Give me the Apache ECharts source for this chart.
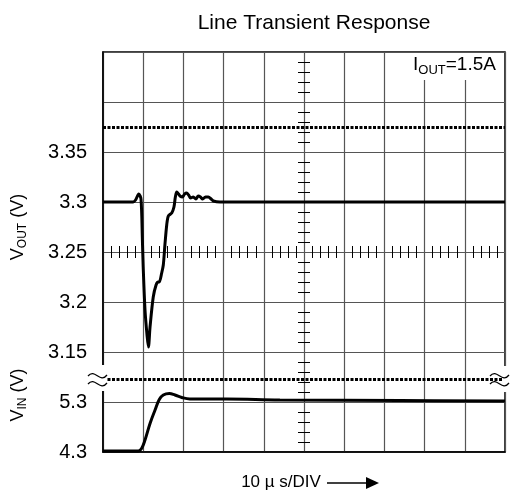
<!DOCTYPE html>
<html>
<head>
<meta charset="utf-8">
<script src="https://cdn.jsdelivr.net/npm/echarts@6/dist/echarts.min.js"></script>
<style>
  html, body { margin: 0; padding: 0; background: #fff; }
  #main { width: 518px; height: 500px; }
</style>
</head>
<body>
<div id="main"></div>
<script>
// 时间轴 (µs)，每格 10µs
var voutTime = [0, 7.5, 8.1, 8.9, 9.45, 9.8, 10.0, 10.45, 10.95, 11.3, 11.7, 12.5, 13.2, 13.7, 14.0, 14.6, 15.0, 15.4, 15.85, 16.25,
    17.1, 17.65, 18.0, 18.35, 18.8, 19.15, 19.8, 20.3, 20.8, 21.3, 21.8, 22.45, 23.1, 23.7, 24.25, 24.8, 25.5, 26.2, 26.9, 27.45, 29.1, 100];
var voutValue = [3.300, 3.300, 3.302, 3.308, 3.303, 3.262, 3.235, 3.192, 3.167, 3.155, 3.175, 3.205, 3.217, 3.220, 3.220, 3.229, 3.237, 3.257, 3.277, 3.286,
    3.289, 3.295, 3.305, 3.310, 3.308, 3.306, 3.305, 3.308, 3.309, 3.307, 3.304, 3.305, 3.303, 3.306, 3.305, 3.303, 3.305, 3.305, 3.303, 3.301, 3.300, 3.300];

var vinTime = [0, 8.8, 9.6, 10.45, 11.7, 12.95, 14.0, 15.0, 16.5, 17.9, 19.6, 21.6, 30.8, 44, 74, 100];
var vinValue = [4.32, 4.32, 4.37, 4.54, 4.87, 5.14, 5.35, 5.44, 5.47, 5.44, 5.39, 5.36, 5.36, 5.34, 5.33, 5.32];

// 参考线（示波器标记）
var voutRef = 3.375;
var vinRef = 5.76;

// 刻度标签
var voutLabels = ['3.15', '3.2', '3.25', '3.3', '3.35'];
var vinLabels = ['4.3', '5.3'];

function zip(xs, ys) {
    var out = [];
    for (var i = 0; i < xs.length; i++) {
        out.push([xs[i], ys[i]]);
    }
    return out;
}

var font = 'Arial, "Liberation Sans", sans-serif';
var chart = echarts.init(document.getElementById('main'));

var centerTickX = function (inside) {
    return {
        type: 'value', min: 0, max: 100, interval: 10,
        position: 'bottom', offset: -200,
        axisLine: { show: false }, axisLabel: { show: false }, splitLine: { show: false },
        axisTick: { show: false, inside: inside },
        minorTick: { show: true, splitNumber: 5, length: 6, lineStyle: { color: '#000', width: 1 } }
    };
};
var centerTickY = function (inside) {
    return {
        type: 'value', min: 3.05, max: 3.45, interval: 0.05,
        position: 'left', offset: -201,
        axisLine: { show: false }, axisLabel: { show: false }, splitLine: { show: false },
        axisTick: { show: false, inside: inside },
        minorTick: { show: true, splitNumber: 5, length: 6, lineStyle: { color: '#000', width: 1 } }
    };
};

var option = {
    animation: false,
    backgroundColor: '#fff',
    title: {
        text: 'Line Transient Response',
        left: 309, top: 8, textAlign: 'center',
        textStyle: { fontFamily: font, fontSize: 21, fontWeight: 'normal', color: '#000' }
    },
    grid: { left: 103, right: 13, top: 52, bottom: 48, show: true, borderColor: '#000', borderWidth: 1.5 },
    xAxis: [{
        type: 'value', min: 0, max: 100, interval: 10,
        name: '10 µ s/DIV', nameLocation: 'middle', nameGap: 22,
        nameTextStyle: { fontFamily: font, fontSize: 17, color: '#000', padding: [0, 46, 0, 0] },
        axisLine: { show: true, lineStyle: { color: '#000', width: 1.5 } },
        axisTick: { show: false }, axisLabel: { show: false },
        splitLine: { show: true, lineStyle: { color: '#555', width: 1.2 } }
    }, centerTickX(true), centerTickX(false)],
    yAxis: [{
        type: 'value', min: 3.05, max: 3.45, interval: 0.05,
        axisLine: { show: true, lineStyle: { color: '#000', width: 1.5 } },
        axisTick: { show: false },
        axisLabel: {
            margin: 16, fontFamily: font, fontSize: 20, color: '#000',
            formatter: function (v) {
                var s = String(+v.toFixed(2));
                return voutLabels.indexOf(s) >= 0 ? s : '';
            }
        },
        splitLine: { show: true, lineStyle: { color: '#555', width: 1.2 } }
    }, {
        type: 'value', min: 4.3, max: 12.3, interval: 0.1,
        position: 'left',
        axisLine: { show: false }, axisTick: { show: false }, splitLine: { show: false },
        axisLabel: {
            margin: 16, fontFamily: font, fontSize: 20, color: '#000',
            formatter: function (v) {
                var s = String(+v.toFixed(1));
                return vinLabels.indexOf(s) >= 0 && Math.abs(v - +s) < 1e-6 ? s : '';
            }
        }
    }, centerTickY(true), centerTickY(false)],
    series: [{
        name: 'VOUT', type: 'line', xAxisIndex: 0, yAxisIndex: 0,
        data: zip(voutTime, voutValue),
        showSymbol: false, smooth: 0.3,
        lineStyle: { color: '#000', width: 3 },
        markLine: {
            silent: true, symbol: 'none', precision: 3, label: { show: false },
            lineStyle: { color: '#000', width: 3, type: [3, 1.5] },
            data: [{ yAxis: voutRef }]
        }
    }, {
        name: 'VIN', type: 'line', xAxisIndex: 0, yAxisIndex: 1,
        data: zip(vinTime, vinValue),
        showSymbol: false, smooth: 0.4,
        lineStyle: { color: '#000', width: 3 },
        markLine: {
            silent: true, symbol: 'none', precision: 3, label: { show: false },
            lineStyle: { color: '#000', width: 3, type: [3, 1.5] },
            data: [{ yAxis: vinRef }]
        }
    }],
    graphic: [
        // IOUT 标注
        {
            type: 'rect', left: 408, top: 53, z: 100,
            shape: { width: 95, height: 27 }, style: { fill: '#fff' }
        },
        {
            type: 'text', left: 413, top: 55, z: 101,
            style: {
                text: '{n|I}{s|OUT}{n|=1.5A}',
                rich: {
                    n: { fontFamily: font, fontSize: 19, fill: '#000', verticalAlign: 'top' },
                    s: { fontFamily: font, fontSize: 13, fill: '#000', verticalAlign: 'top', padding: [9, 0, 0, 0] }
                }
            }
        },
        // 纵轴名称
        {
            type: 'text', x: 19, y: 227, rotation: Math.PI / 2, z: 100,
            style: {
                text: '{n|V}{s|OUT}{n| (V)}', align: 'center', verticalAlign: 'middle',
                rich: {
                    n: { fontFamily: font, fontSize: 18, fill: '#000', verticalAlign: 'top' },
                    s: { fontFamily: font, fontSize: 12, fill: '#000', verticalAlign: 'top', padding: [8, 0, 0, 0] }
                }
            }
        },
        {
            type: 'text', x: 19, y: 395, rotation: Math.PI / 2, z: 100,
            style: {
                text: '{n|V}{s|IN}{n| (V)}', align: 'center', verticalAlign: 'middle',
                rich: {
                    n: { fontFamily: font, fontSize: 18, fill: '#000', verticalAlign: 'top' },
                    s: { fontFamily: font, fontSize: 12, fill: '#000', verticalAlign: 'top', padding: [8, 0, 0, 0] }
                }
            }
        },
        // 断轴符号
        { type: 'rect', left: 100, top: 365, z: 100, shape: { width: 7, height: 26 }, style: { fill: '#fff' } },
        { type: 'rect', left: 502, top: 366, z: 100, shape: { width: 7, height: 26 }, style: { fill: '#fff' } },
        { type: 'bezierCurve', z: 101, shape: { x1: 88, y1: 376, cpx1: 95, cpy1: 368, cpx2: 100, cpy2: 384, x2: 107, y2: 375 }, style: { stroke: '#000', lineWidth: 1.3, fill: null } },
        { type: 'bezierCurve', z: 101, shape: { x1: 88, y1: 384, cpx1: 95, cpy1: 376, cpx2: 100, cpy2: 392, x2: 107, y2: 383 }, style: { stroke: '#000', lineWidth: 1.3, fill: null } },
        { type: 'bezierCurve', z: 101, shape: { x1: 490, y1: 376, cpx1: 497, cpy1: 368, cpx2: 502, cpy2: 384, x2: 509, y2: 375 }, style: { stroke: '#000', lineWidth: 1.3, fill: null } },
        { type: 'bezierCurve', z: 101, shape: { x1: 490, y1: 384, cpx1: 497, cpy1: 376, cpx2: 502, cpy2: 392, x2: 509, y2: 383 }, style: { stroke: '#000', lineWidth: 1.3, fill: null } },
        // 时间方向箭头
        { type: 'line', z: 100, shape: { x1: 327, y1: 483, x2: 368, y2: 483 }, style: { stroke: '#000', lineWidth: 1.3 } },
        { type: 'polygon', z: 100, shape: { points: [[366, 477], [379, 483], [366, 489]] }, style: { fill: '#000' } }
    ]
};
chart.setOption(option);
</script>
</body>
</html>
